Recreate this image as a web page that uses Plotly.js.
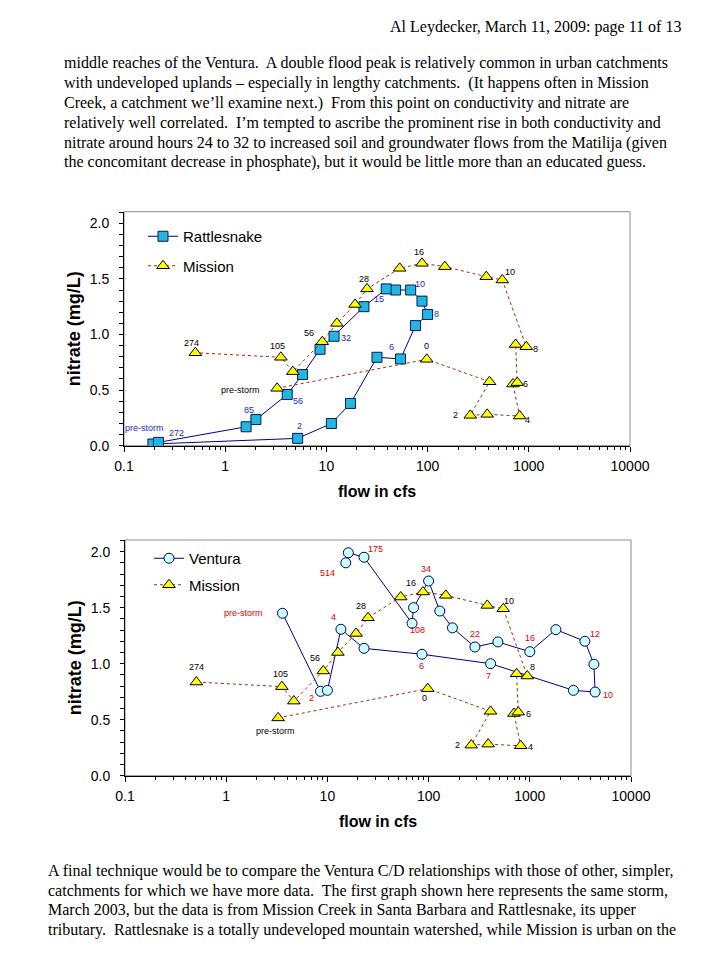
<!DOCTYPE html>
<html><head><meta charset="utf-8">
<script src="https://cdn.plot.ly/plotly-3.0.1.min.js"></script>
<style>html,body{margin:0;padding:0;background:#fff}#c{width:720px;height:960px}</style>
</head><body><div id="c"></div><script>
// ---------- data ----------
const tickVals = [0.1, 1, 10, 100, 1000, 10000];
const tickText = ['0.1', '1', '10', '100', '1000', '10000'];

const rattleFlow    = [0.193, 5.2, 11.2, 17.3, 31.6, 54, 76, 100, 88, 68, 48.3, 39, 23.5, 11.9, 8.65, 5.8, 4.1, 2.01, 1.61, 0.219];
const rattleNitrate = [0.015, 0.066, 0.20, 0.38, 0.795, 0.78, 1.08, 1.18, 1.30, 1.40, 1.40, 1.41, 1.25, 0.984, 0.867, 0.64, 0.46, 0.235, 0.17, 0.03];
const rattleHours   = ['pre-storm', '2', '', '', '', '6', '', '8', '', '10', '', '', '15', '32', '', '', '56', '85', '', '272'];

const missionFlow    = [3.26, 98, 409, 264, 388, 813, 697, 769, 741, 944, 547, 380, 148, 88, 53, 25.2, 19.2, 12.7, 9.1, 4.66, 3.55, 0.507];
const missionNitrate = [0.516, 0.777, 0.575, 0.273, 0.282, 0.267, 0.555, 0.567, 0.91, 0.89, 1.49, 1.52, 1.61, 1.64, 1.595, 1.41, 1.27, 1.10, 0.935, 0.666, 0.795, 0.836];
const missionHours   = ['pre-storm', '0', '', '2', '', '4', '', '6', '', '8', '10', '', '', '16', '', '28', '', '', '56', '', '105', '274'];

const venturaFlow    = [3.6, 8.55, 10.0, 13.6, 23, 86, 410, 2700, 4420, 4300, 3500, 1810, 1000, 484, 287, 172, 129, 100, 71, 68.6, 23, 16.1, 15.2];
const venturaNitrate = [1.45, 0.753, 0.762, 1.307, 1.137, 1.084, 1.0, 0.762, 0.747, 0.995, 1.20, 1.304, 1.107, 1.194, 1.149, 1.32, 1.47, 1.738, 1.50, 1.36, 1.95, 1.99, 1.90];
const venturaHours   = ['pre-storm', '2', '', '4', '', '6', '7', '', '10', '', '12', '', '16', '', '22', '', '', '34', '', '108', '175', '', '514'];

// label offsets in px [dx, dy(up)]
const rattleOff = {'pre-storm':[-8,16],'2':[2,12],'6':[-9,12],'8':[9,0],'10':[9,6],'15':[15,8],'32':[12,-2],'56':[11,-6],'85':[-7,10],'272':[18,9]};
const missionOffTop = {'pre-storm':[-37,-2],'0':[0,13],'2':[-15,0],'4':[8,-4],'6':[8,-1],'8':[9,-2],'10':[8,8],'16':[-3,11],'28':[-3,10],'56':[-13,9],'105':[-3,11],'274':[-4,10]};
const missionOffBot = {'pre-storm':[-3,-13],'0':[-3,-9],'2':[-14,0],'4':[10,-1],'6':[10,-2],'8':[5,9],'10':[6,8],'16':[-12,9],'28':[-7,12],'56':[-8,13],'105':[-1,13],'274':[0,15]};
const venturaOff = {'pre-storm':[-39,0],'2':[-9,-7],'4':[-7,12],'6':[0,-12],'7':[-2,-12],'10':[13,-3],'12':[10,7],'16':[0,14],'22':[0,13],'34':[-3,12],'108':[5,-7],'175':[11,8],'514':[-18,-10]};

const topText = [
  'middle reaches of the Ventura.\u00a0 A double flood peak is relatively common in urban catchments',
  'with undeveloped uplands \u2013 especially in lengthy catchments.\u00a0 (It happens often in Mission',
  'Creek, a catchment we\u2019ll examine next.)\u00a0 From this point on conductivity and nitrate are',
  'relatively well correlated.\u00a0 I\u2019m tempted to ascribe the prominent rise in both conductivity and',
  'nitrate around hours 24 to 32 to increased soil and groundwater flows from the Matilija (given',
  'the concomitant decrease in phosphate), but it would be little more than an educated guess.'
];
const bottomText = [
  'A final technique would be to compare the Ventura C/D relationships with those of other, simpler,',
  'catchments for which we have more data.\u00a0 The first graph shown here represents the same storm,',
  'March 2003, but the data is from Mission Creek in Santa Barbara and Rattlesnake, its upper',
  'tributary.\u00a0 Rattlesnake is a totally undeveloped mountain watershed, while Mission is urban on the'
];
const header = 'Al Leydecker, March 11, 2009: page 11 of 13';

// ---------- styling ----------
const SANS = 'Liberation Sans, Arial, sans-serif';
const SERIF = 'Liberation Serif, Times New Roman, serif';
const H = 960, W = 720;

function xAxis(domain, anchor){
  return {type:'log', domain, anchor, range:[-1,4], tickmode:'array', tickvals:tickVals, ticktext:tickText,
    ticks:'outside', ticklen:5, tickcolor:'#000', showline:true, linecolor:'#000', linewidth:1,
    showgrid:false, zeroline:false, tickfont:{size:14, color:'#000', family:SANS}, ticklabelstandoff:2,
    minor:{dtick:'D1', ticks:'outside', ticklen:3, tickcolor:'#000', showgrid:false},
    title:{text:'flow in cfs', font:{size:16, color:'#000', family:SANS, weight:'bold'}, standoff:13}};
}
function yAxis(domain, anchor){
  return {domain, anchor, range:[0,2.104], tick0:0, dtick:0.5, tickformat:'.1f', ticks:'outside', ticklen:4,
    tickcolor:'#000', showline:true, linecolor:'#000', linewidth:1, showgrid:false, zeroline:false,
    tickfont:{size:14, color:'#000', family:SANS}, ticklabelstandoff:7,
    minor:{dtick:0.1, ticks:'outside', ticklen:4, tickcolor:'#000', showgrid:false},
    title:{text:'nitrate (mg/L)', font:{size:18, color:'#000', family:SANS, weight:'bold'}, standoff:4}};
}

const rattleStyle = {mode:'lines+markers', line:{color:'#000080', width:1},
  marker:{symbol:'square', size:10, color:'#22B5E6', line:{color:'#00204A', width:1}}};
const missionStyle = {mode:'lines+markers', line:{color:'#993300', width:1, dash:'dot'},
  marker:{symbol:'triangle-up', size:11, color:'#FFFF00', line:{color:'#000', width:1}}};
const venturaStyle = {mode:'lines+markers', line:{color:'#000080', width:1},
  marker:{symbol:'circle', size:10, color:'#CCFFFF', line:{color:'#000060', width:1}}};

const traces = [
  Object.assign({x:rattleFlow, y:rattleNitrate, name:'Rattlesnake', xaxis:'x', yaxis:'y', legend:'legend', legendgroup:'a'}, rattleStyle),
  Object.assign({x:missionFlow, y:missionNitrate, name:'Mission', xaxis:'x', yaxis:'y', legend:'legend', legendgroup:'b'}, missionStyle),
  Object.assign({x:venturaFlow, y:venturaNitrate, name:'Ventura', xaxis:'x2', yaxis:'y2', legend:'legend2', legendgroup:'c'}, venturaStyle),
  Object.assign({x:missionFlow, y:missionNitrate, name:'Mission', xaxis:'x2', yaxis:'y2', legend:'legend2', legendgroup:'d'}, missionStyle)
];

const ann = [];
function pointLabels(flow, nit, hours, off, color, xr, yr){
  hours.forEach((h, i) => {
    if(!h) return;
    const o = off[h] || [0, 10];
    ann.push({x:Math.log10(flow[i]), y:nit[i], xref:xr, yref:yr, text:h, showarrow:false,
      xshift:o[0], yshift:o[1], font:{size:9, color, family:SANS}});
  });
}
pointLabels(rattleFlow, rattleNitrate, rattleHours, rattleOff, '#2828C8', 'x', 'y');
pointLabels(missionFlow, missionNitrate, missionHours, missionOffTop, '#000', 'x', 'y');
pointLabels(venturaFlow, venturaNitrate, venturaHours, venturaOff, '#E00000', 'x2', 'y2');
pointLabels(missionFlow, missionNitrate, missionHours, missionOffBot, '#000', 'x2', 'y2');

ann.push({xref:'paper', yref:'paper', x:683/W, y:1-27/H, xanchor:'right', yanchor:'middle', text:header,
  showarrow:false, font:{size:16, color:'#000', family:SERIF}});
const topY = [63, 83, 103, 123, 143, 162];
topText.forEach((t, i) => ann.push({xref:'paper', yref:'paper', x:62/W, y:1-topY[i]/H, xanchor:'left', yanchor:'middle',
  text:t, showarrow:false, font:{size:16, color:'#000', family:SERIF}}));
const botY = [871, 891, 910, 930];
bottomText.forEach((t, i) => ann.push({xref:'paper', yref:'paper', x:46/W, y:1-botY[i]/H, xanchor:'left', yanchor:'middle',
  text:t, showarrow:false, font:{size:16, color:'#000', family:SERIF}}));

const frame = (xr, yr) => ({type:'rect', xref:xr + ' domain', yref:yr + ' domain', x0:0, x1:1, y0:0, y1:1,
  line:{color:'#8C8C8C', width:1}, layer:'below'});

const layout = {
  width:W, height:H, margin:{l:0, r:0, t:0, b:0}, paper_bgcolor:'#fff', plot_bgcolor:'#fff',
  font:{family:SANS, color:'#000'}, showlegend:true,
  xaxis: xAxis([124/W, 630/W], 'y'),
  yaxis: yAxis([1-445.7/H, 1-211.7/H], 'x'),
  xaxis2: xAxis([125/W, 631/W], 'y2'),
  yaxis2: yAxis([1-775.7/H, 1-540/H], 'x2'),
  legend:{x:143/W, xanchor:'left', y:1-220/H, yanchor:'top', bgcolor:'rgba(0,0,0,0)', borderwidth:0,
    font:{size:15, color:'#000', family:SANS}, tracegroupgap:7},
  legend2:{x:149/W, xanchor:'left', y:1-542/H, yanchor:'top', bgcolor:'rgba(0,0,0,0)', borderwidth:0,
    font:{size:15, color:'#000', family:SANS}, tracegroupgap:4},
  shapes:[frame('x','y'), frame('x2','y2')],
  annotations: ann
};
Plotly.newPlot('c', traces, layout, {staticPlot:true, displayModeBar:false});
</script></body></html>
